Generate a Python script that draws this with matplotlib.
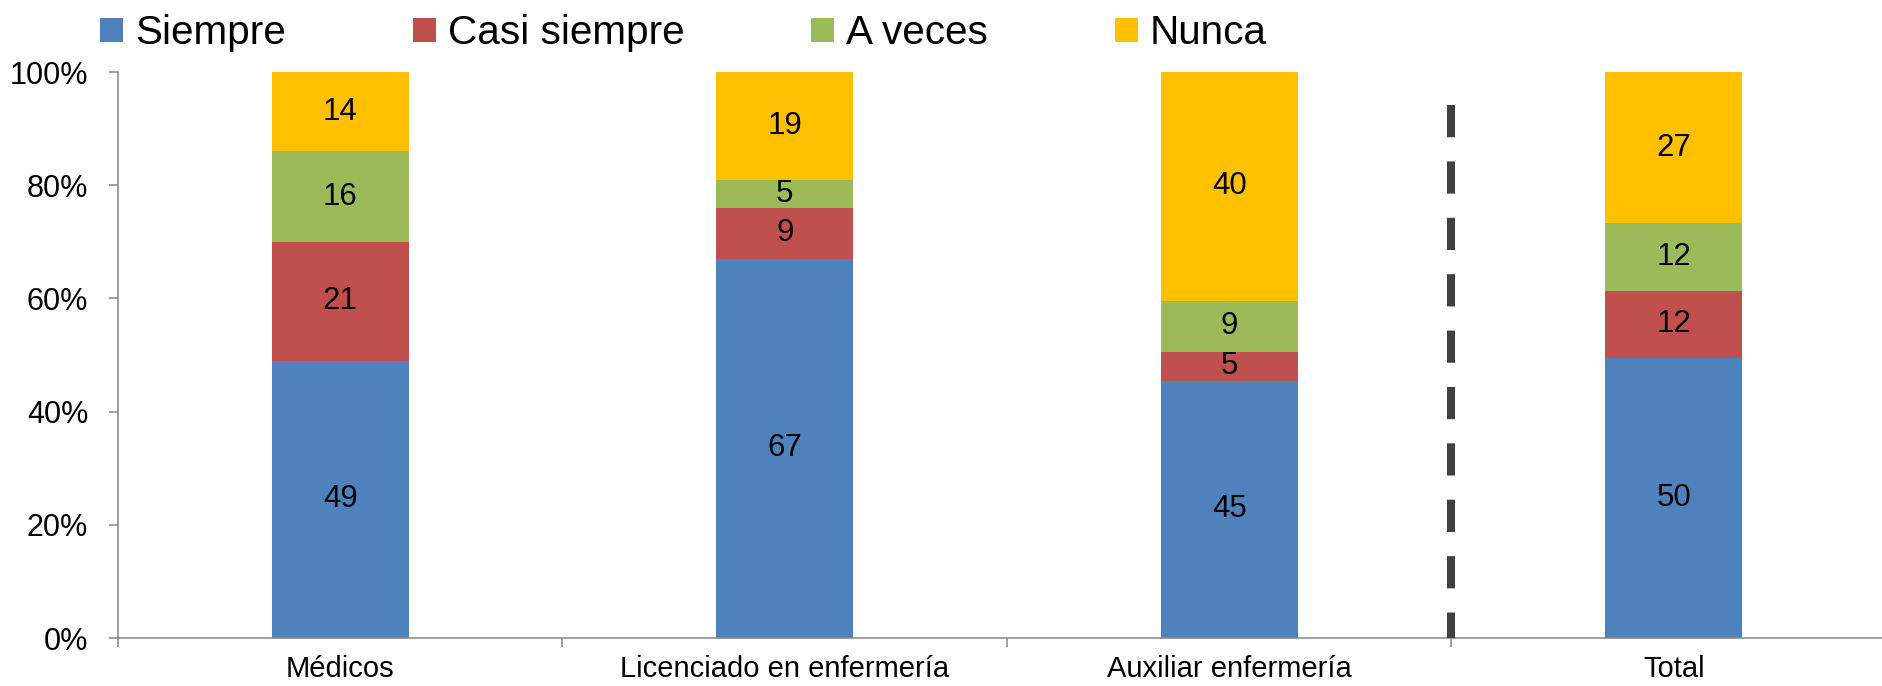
import matplotlib
matplotlib.use("Agg")
import matplotlib.pyplot as plt
import numpy as np

plt.rcParams['font.family'] = ['Liberation Sans', 'DejaVu Sans']

categories = ["Médicos", "Licenciado en enfermería", "Auxiliar enfermería", "Total"]
series_names = ["Siempre", "Casi siempre", "A veces", "Nunca"]
siempre = [49, 67, 45, 50]
casi_siempre = [21, 9, 5, 12]
a_veces = [16, 5, 9, 12]
nunca = [14, 19, 40, 27]
colors = ["#4F81BD", "#C0504D", "#9BBB59", "#FFC000"]
yticks = [0, 20, 40, 60, 80, 100]
ytick_labels = ["0%", "20%", "40%", "60%", "80%", "100%"]

W, H = 1883, 686
fig = plt.figure(figsize=(W / 100, H / 100), dpi=100)
ax = fig.add_axes([118 / W, 48 / H, 1778 / W, 566 / H])

data = np.array([siempre, casi_siempre, a_veces, nunca], dtype=float)
totals = data.sum(axis=0)
pct = data / totals * 100
x = np.arange(len(categories))
bottom = np.zeros(len(categories))
handles = []
for i, name in enumerate(series_names):
    bars = ax.bar(x, pct[i], 0.308, bottom=bottom, color=colors[i], label=name, zorder=2)
    handles.append(bars)
    for j in range(len(categories)):
        ax.text(x[j], bottom[j] + pct[i][j] / 2, f"{int(data[i][j])}",
                ha='center', va='center', fontsize=22.5, color='black', zorder=3)
    bottom += pct[i]

# separator line
ax.plot([2.5, 2.5], [94.2, 0], color="#404040", lw=5.8, dashes=(4, 3),
        solid_capstyle='butt', dash_capstyle='butt', zorder=4, clip_on=False)

ax.set_xlim(-0.5, 3.5)
ax.set_ylim(0, 100)
for s in ['top', 'right']:
    ax.spines[s].set_visible(False)
for s in ['left', 'bottom']:
    ax.spines[s].set_color('#868686')
    ax.spines[s].set_linewidth(1.1)

ax.set_yticks(yticks)
ax.set_yticklabels(ytick_labels, fontsize=22)
ax.tick_params(axis='y', length=6.5, width=1.1, color='#868686', pad=15)

ax.set_xticks([-0.5, 0.5, 1.5, 2.5, 3.5])
ax.set_xticklabels([])
ax.tick_params(axis='x', which='major', length=6.5, width=1.1, color='#868686')
ax.set_xticks(x, minor=True)
ax.set_xticklabels(categories, minor=True, fontsize=21)
ax.tick_params(axis='x', which='minor', length=0, pad=12.5)

fig.legend(handles=handles, labels=series_names, loc='center left',
           bbox_to_anchor=(100 / W, 1 - 33 / H), ncol=4, frameon=False,
           fontsize=29.2, handlelength=0.57, handleheight=0.54, handletextpad=0.3,
           columnspacing=3.12, borderpad=0, borderaxespad=0)

fig.savefig("out.png", dpi=100)
